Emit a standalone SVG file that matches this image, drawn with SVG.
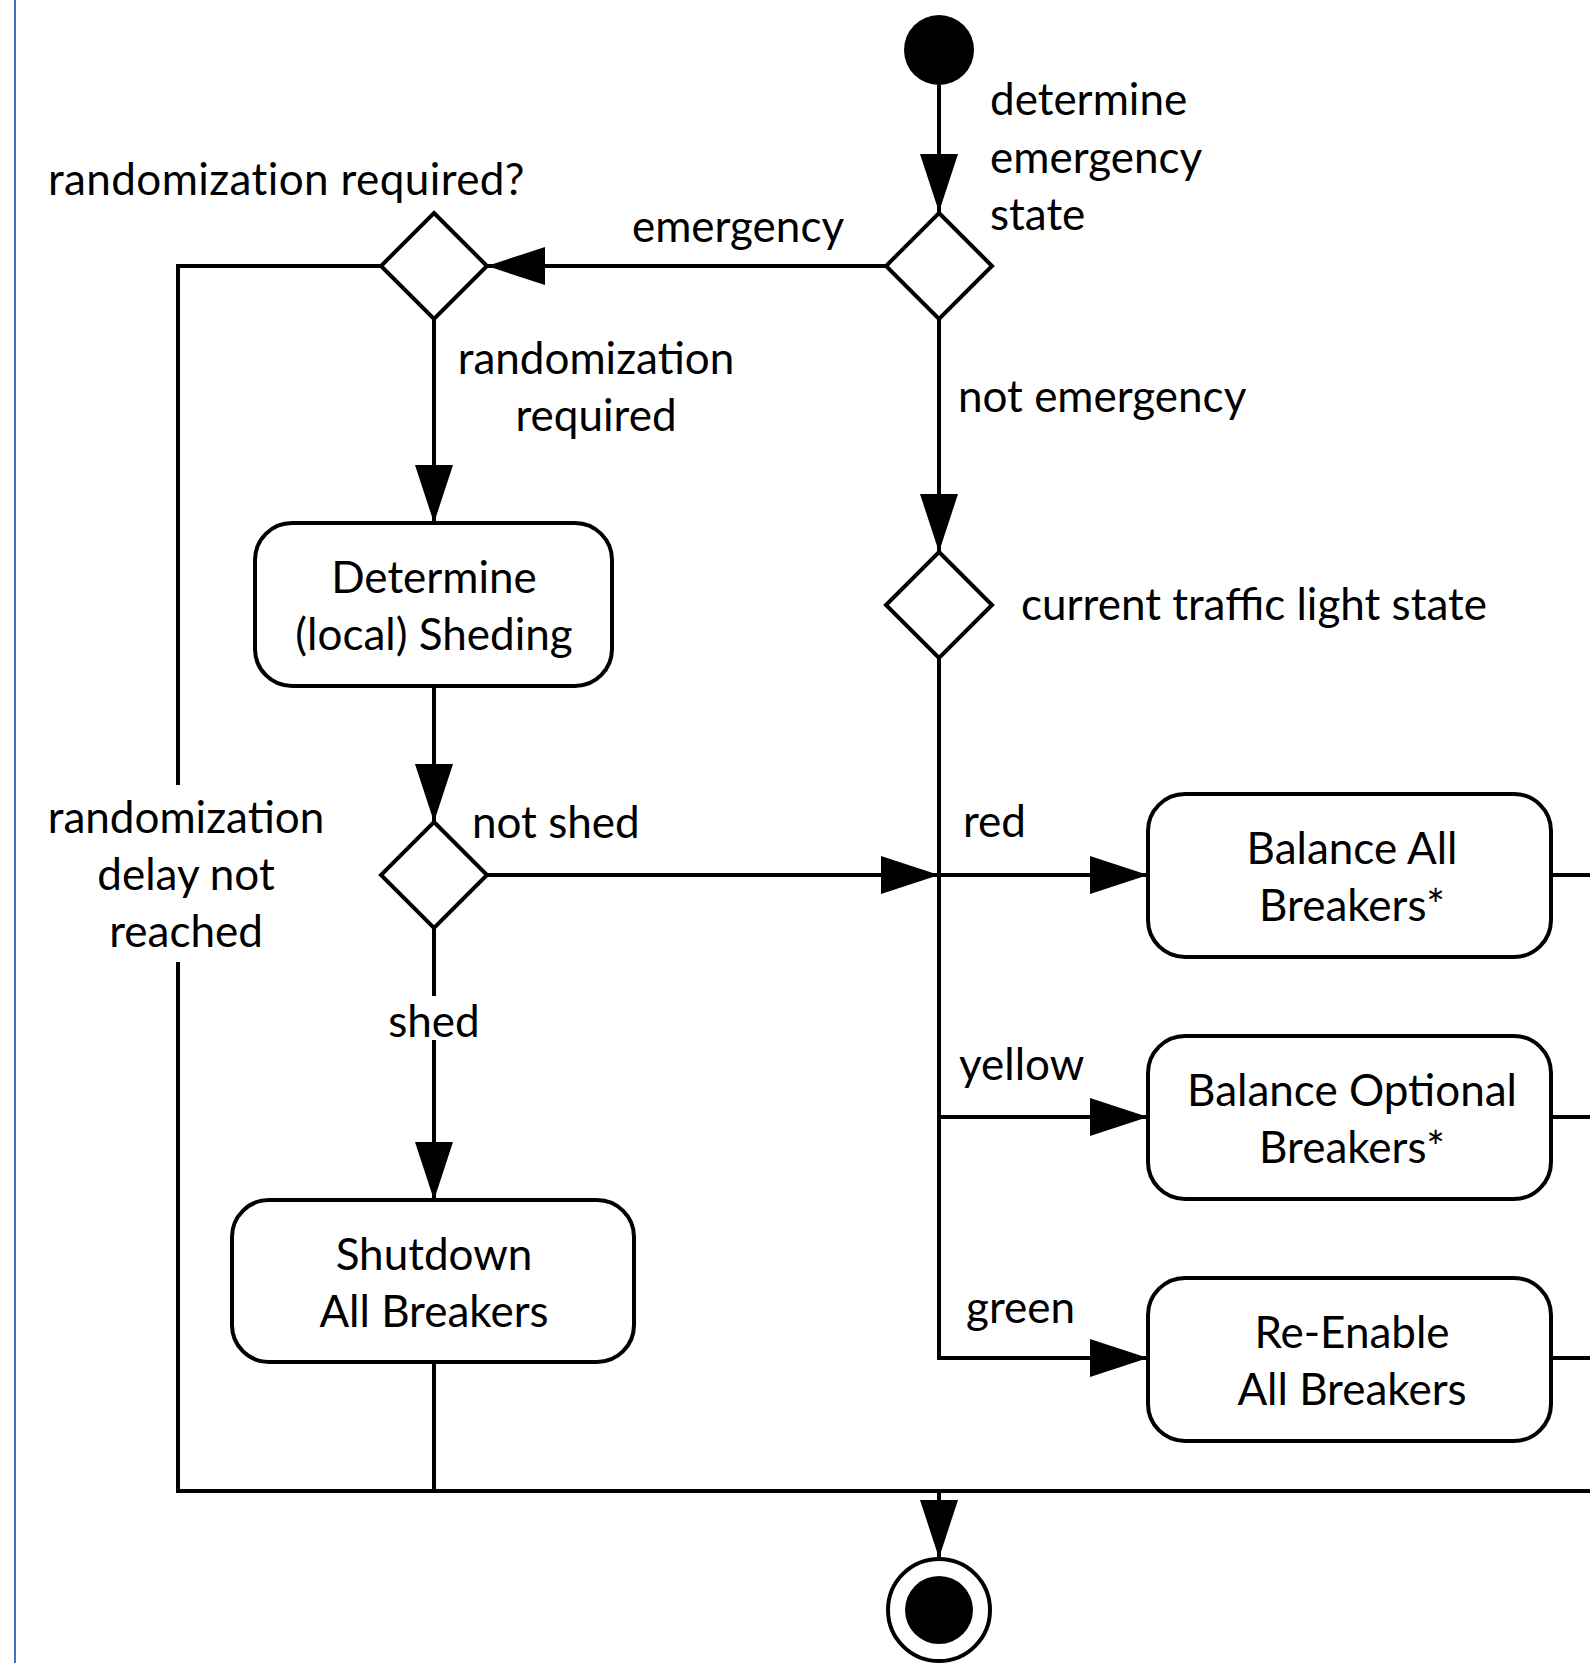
<svg xmlns="http://www.w3.org/2000/svg" width="1590" height="1663" viewBox="0 0 1590 1663">
<style>
.ln{fill:none;stroke:#000;stroke-width:4}
.nd{fill:#fff;stroke:#000;stroke-width:4}
text{font-family:Lato,"Liberation Sans",sans-serif;font-size:44px;fill:#000}
.c{text-anchor:middle}
</style>
<defs>
<marker id="ah" markerUnits="userSpaceOnUse" markerWidth="60" markerHeight="40" refX="58" refY="19" orient="auto">
<path d="M0,0 L58,19 L0,38 Z" fill="#000"/>
</marker>
</defs>
<rect width="1590" height="1663" fill="#fff"/>
<line x1="15" y1="0" x2="15" y2="1663" stroke="#4472C4" stroke-width="2"/>
<g id="connectors">
<line class="ln" x1="939" y1="85" x2="939" y2="212" marker-end="url(#ah)"/>
<line class="ln" x1="886" y1="266" x2="487" y2="266" marker-end="url(#ah)"/>
<polyline class="ln" points="381,266 178,266 178,785"/>
<polyline class="ln" points="178,962 178,1491 1590,1491"/>
<line class="ln" x1="434" y1="319" x2="434" y2="523" marker-end="url(#ah)"/>
<line class="ln" x1="939" y1="319" x2="939" y2="552" marker-end="url(#ah)"/>
<line class="ln" x1="434" y1="686" x2="434" y2="822" marker-end="url(#ah)"/>
<line class="ln" x1="487" y1="875" x2="939" y2="875" marker-end="url(#ah)"/>
<polyline class="ln" points="939,658 939,1358 1148,1358" marker-end="url(#ah)"/>
<line class="ln" x1="939" y1="875" x2="1148" y2="875" marker-end="url(#ah)"/>
<line class="ln" x1="939" y1="1117" x2="1148" y2="1117" marker-end="url(#ah)"/>
<line class="ln" x1="434" y1="928" x2="434" y2="996"/>
<line class="ln" x1="434" y1="1040" x2="434" y2="1200" marker-end="url(#ah)"/>
<line class="ln" x1="434" y1="1362" x2="434" y2="1491"/>
<line class="ln" x1="1551" y1="875" x2="1590" y2="875"/>
<line class="ln" x1="1551" y1="1117" x2="1590" y2="1117"/>
<line class="ln" x1="1551" y1="1358" x2="1590" y2="1358"/>
<line class="ln" x1="939" y1="1491" x2="939" y2="1558" marker-end="url(#ah)"/>
<text x="738" y="242" class="c">emergency</text>
<text x="596" y="374" class="c">randomization</text>
<text x="596" y="431" class="c">required</text>
<text x="958" y="412">not emergency</text>
<text x="472" y="838">not shed</text>
<text x="434" y="1037" class="c">shed</text>
<text x="186" y="833" class="c">randomization</text>
<text x="186" y="890" class="c">delay not</text>
<text x="186" y="947" class="c">reached</text>
<text x="963" y="837">red</text>
<text x="959" y="1080">yellow</text>
<text x="966" y="1323">green</text>
</g>
<g id="start">
<circle cx="939" cy="50" r="35" fill="#000"/>
<text x="990" y="115">determine</text>
<text x="990" y="173">emergency</text>
<text x="990" y="230">state</text>
</g>
<g id="d-emergency">
<polygon class="nd" points="939,213 992,266 939,319 886,266"/>
</g>
<g id="d-random">
<polygon class="nd" points="434,213 487,266 434,319 381,266"/>
<text x="48" y="195" letter-spacing="0.4">randomization required?</text>
</g>
<g id="determine">
<rect class="nd" x="255" y="523" width="357" height="163" rx="37"/>
<text x="434" y="593" class="c">Determine</text>
<text x="434" y="650" class="c">(local) Sheding</text>
</g>
<g id="d-traffic">
<polygon class="nd" points="939,552 992,605 939,658 886,605"/>
<text x="1021" y="620">current traffic light state</text>
</g>
<g id="d-shed">
<polygon class="nd" points="434,822 487,875 434,928 381,875"/>
</g>
<g id="balance-all">
<rect class="nd" x="1148" y="794" width="403" height="163" rx="37"/>
<text x="1352" y="864" class="c">Balance All</text>
<text x="1352" y="921" class="c">Breakers*</text>
</g>
<g id="balance-optional">
<rect class="nd" x="1148" y="1036" width="403" height="163" rx="37"/>
<text x="1352" y="1106" class="c">Balance Optional</text>
<text x="1352" y="1163" class="c">Breakers*</text>
</g>
<g id="re-enable">
<rect class="nd" x="1148" y="1278" width="403" height="163" rx="37"/>
<text x="1352" y="1348" class="c">Re-Enable</text>
<text x="1352" y="1405" class="c">All Breakers</text>
</g>
<g id="shutdown">
<rect class="nd" x="232" y="1200" width="402" height="162" rx="37"/>
<text x="434" y="1270" class="c">Shutdown</text>
<text x="434" y="1327" class="c">All Breakers</text>
</g>
<g id="end">
<circle cx="939" cy="1610" r="51" fill="#fff" stroke="#000" stroke-width="4"/>
<circle cx="939" cy="1610" r="34" fill="#000"/>
</g>
</svg>
